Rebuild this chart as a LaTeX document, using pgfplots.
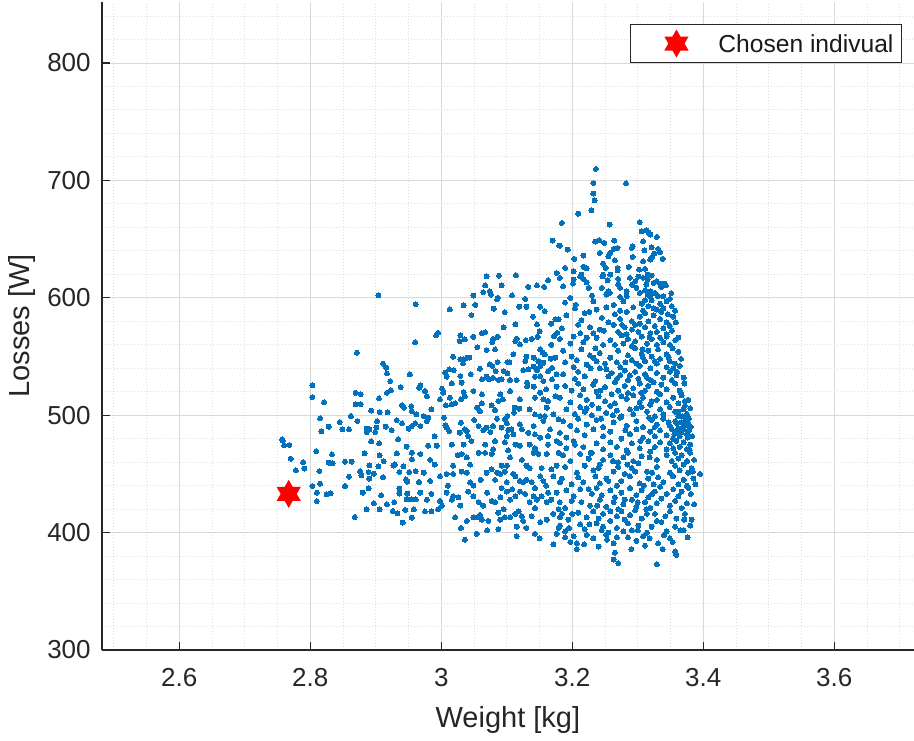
\documentclass[border=0pt]{standalone}
\usepackage{pgfplots}
\pgfplotsset{compat=1.18}
\usepackage{fontspec}
\setmainfont{Liberation Sans}
\definecolor{mblue}{rgb}{0,0.447,0.741}
\definecolor{axgray}{rgb}{0.15,0.15,0.15}
% six-pointed star (two triangles)
\pgfdeclareplotmark{hexagram}{%
  \pgfpathmoveto{\pgfqpointpolar{90}{\pgfplotmarksize}}%
  \pgfpathlineto{\pgfqpointpolar{210}{\pgfplotmarksize}}%
  \pgfpathlineto{\pgfqpointpolar{330}{\pgfplotmarksize}}%
  \pgfpathclose
  \pgfpathmoveto{\pgfqpointpolar{270}{\pgfplotmarksize}}%
  \pgfpathlineto{\pgfqpointpolar{30}{\pgfplotmarksize}}%
  \pgfpathlineto{\pgfqpointpolar{150}{\pgfplotmarksize}}%
  \pgfpathclose
  \pgfusepathqfill}
\pgfplotsset{pts/.style={only marks, color=mblue, mark=*, mark size=1.25pt, mark options={line width=0pt, draw=mblue, fill=mblue}, forget plot}}
\begin{document}
\begin{tikzpicture}
\useasboundingbox (0,0) rectangle (457pt,370pt);
\begin{axis}[
    at={(50.85pt,45pt)}, anchor=south west,
    scale only axis, width=406.15pt, height=324pt,
    xmin=2.4815, xmax=3.7217, ymin=300, ymax=852,
    axis x line*=bottom, axis y line*=left,
    axis line style={axgray, line width=0.8pt},
    xtick={2.6,2.8,3,3.2,3.4,3.6},
    xticklabels={2.6,2.8,3,3.2,3.4,3.6},
    ytick={300,400,500,600,700,800},
    minor xtick={2.5,2.55,2.65,2.7,2.75,2.85,2.9,2.95,3.05,3.1,3.15,3.25,3.3,3.35,3.45,3.5,3.55,3.65,3.7},
    minor ytick={320,340,360,380,420,440,460,480,520,540,560,580,620,640,660,680,720,740,760,780,820,840},
    grid=both,
    major grid style={black!15, line width=0.5pt},
    minor grid style={black!13, line width=0.5pt, densely dotted},
    tick align=inside, major tick length=4pt, minor tick length=0pt,
    tick style={axgray, line width=0.6pt},
    ticklabel style={font=\fontsize{13}{15}\selectfont, text=axgray},
    /pgf/number format/assume math mode=true,
    xticklabel style={yshift=-5.5pt},
    yticklabel style={xshift=-2pt},
    xlabel={Weight [kg]}, ylabel={Losses [W]},
    label style={font=\fontsize{14.5}{17}\selectfont, text=axgray},
    xlabel style={at={(axis description cs:0.5,-0.119)}, anchor=base},
    ylabel style={at={(axis description cs:-0.0985,0.5)}, anchor=center},
    legend style={at={(0.9852,0.966)}, anchor=north east, draw=axgray, line width=0.5pt,
        fill=white, inner xsep=2pt, inner ysep=2.5pt, nodes={inner sep=2pt, text depth=0pt},
        font=\fontsize{12.3}{14}\selectfont, text=black!90},
    legend cell align=left,
]
% left part, x < 2.97
\addplot[pts] coordinates {
(2.961,594.6)(2.960,562.2)(2.871,553.2)(2.911,544.0)(2.916,540.4)(2.917,535.6)(2.952,534.7)(2.922,529.0)
(2.803,525.4)(2.923,521.4)(2.917,519.1)(2.938,523.9)(2.966,523.4)(2.869,519.1)(2.877,517.9)(2.803,515.4)
(2.905,514.3)(2.821,511.1)(2.869,509.4)(2.877,509.4)(2.940,508.6)(2.943,506.4)(2.954,507.7)(2.893,504.0)
(2.906,502.6)(2.918,502.6)(2.955,503.5)(2.962,500.7)(2.815,497.3)(2.862,499.3)(2.872,495.0)(2.845,494.1)
(2.902,495.0)(2.932,495.8)(2.940,493.0)(2.960,493.0)(2.828,490.2)(2.817,486.2)(2.849,487.9)(2.859,487.9)
(2.886,488.5)(2.890,487.9)(2.901,489.4)(2.915,490.2)(2.924,487.3)(2.950,488.5)(2.955,490.7)(2.757,479.4)
(2.899,485.6)(2.886,485.6)(2.904,602.2)
(2.758,478.6)(2.760,474.3)(2.768,474.6)(2.770,462.9)(2.789,460.1)(2.778,453.0)(2.791,454.5)(2.809,469.5)
(2.833,466.6)(2.828,459.6)(2.834,459.0)(2.814,452.4)(2.853,460.4)(2.863,460.4)(2.815,441.7)(2.803,439.7)
(2.810,434.0)(2.825,432.6)(2.831,433.5)(2.810,426.9)(2.853,439.7)(2.859,447.7)(2.876,452.4)(2.878,448.8)
(2.883,467.5)(2.890,457.3)(2.889,451.6)(2.893,477.7)(2.905,476.0)(2.906,465.8)(2.904,456.5)(2.912,460.9)
(2.897,450.2)(2.890,446.0)(2.911,447.3)(2.889,437.7)(2.880,434.0)(2.934,479.4)(2.947,473.2)(2.955,468.1)
(2.955,462.4)(2.932,467.5)(2.929,458.1)(2.927,457.0)(2.942,456.5)(2.936,451.6)(2.951,451.6)(2.961,452.4)
(2.946,445.3)(2.948,443.4)(2.966,443.1)(2.936,437.5)(2.936,433.2)(2.948,433.2)(2.908,431.8)(2.928,426.0)
(2.947,428.3)(2.954,428.3)(2.961,428.3)(2.897,425.0)(2.886,419.8)(2.906,419.8)(2.917,424.1)(2.926,418.4)
(2.933,416.4)(2.945,419.3)(2.958,419.8)(2.955,412.8)(2.941,408.5)(2.868,413.3)
};
% middle part, 2.97 < x < 3.18
\addplot[pts] coordinates {
(3.170,648.8)(3.180,644.5)(3.069,618.4)(3.088,619.0)(3.114,619.3)(3.067,610.5)(3.092,610.5)(3.074,605.6)
(3.064,604.8)(3.076,602.8)(3.049,601.9)(3.086,600.0)(3.133,609.3)(3.146,610.5)(3.157,609.3)(3.163,615.0)
(3.176,621.2)(3.128,599.1)
(3.013,590.1)(3.034,593.5)(3.046,585.3)(3.080,590.7)(3.085,598.6)(3.097,587.8)(3.119,592.4)(3.130,592.4)
(3.151,592.4)(3.158,588.7)(3.174,581.6)(3.179,581.6)(3.146,577.3)(3.150,571.6)(3.113,577.3)(2.992,568.0)
(2.995,570.2)(3.029,568.0)(3.036,564.6)(3.028,563.1)(3.049,566.8)(3.062,569.7)(3.067,570.8)(3.079,565.1)
(3.086,566.8)(3.078,562.3)(3.115,565.1)(3.113,563.1)(3.129,564.0)(3.138,565.1)(3.147,566.8)(3.172,567.4)
(3.177,570.2)(3.082,556.0)(3.069,555.5)(3.120,560.3)(3.151,556.0)(3.155,553.2)(3.158,551.8)(3.029,547.5)
(3.034,547.5)(3.039,549.0)(3.043,549.0)(3.018,549.8)(3.033,544.1)(3.130,549.8)(3.128,546.1)(3.141,549.0)
(3.148,546.1)(3.156,544.7)(3.167,548.1)(3.174,549.0)(3.086,545.3)(3.101,545.3)(3.104,545.0)(3.074,543.3)
(3.078,541.9)(3.059,539.6)(3.083,537.6)(3.006,536.2)(3.012,539.0)(3.019,538.5)(3.008,532.8)(3.016,527.1)
(3.029,533.4)(3.031,527.7)(3.062,530.5)(3.069,532.8)(3.073,530.5)(3.079,531.9)(3.087,530.0)(3.092,530.5)
(3.105,530.0)(3.095,537.6)(3.101,535.6)(3.125,538.5)(3.133,539.0)(3.141,541.3)(3.146,538.5)(3.151,541.9)
(3.163,537.6)(3.169,540.4)(3.176,534.8)(3.169,530.5)(3.151,533.4)(3.131,527.7)(3.143,532.8)(3.156,529.1)
(2.968,525.4)(2.975,520.6)(2.978,516.3)(3.001,522.6)(3.003,519.2)(3.013,514.9)(2.998,513.5)(3.016,509.2)
(3.007,508.4)(3.021,510.1)(3.034,519.7)(3.036,516.3)(3.030,513.5)(3.049,520.6)(3.062,517.7)(3.062,510.1)
(3.055,506.4)(3.059,503.6)(3.077,508.4)(3.082,504.4)(3.090,517.7)(3.094,513.5)(3.087,512.1)(3.105,520.6)
(3.112,506.4)(3.119,505.5)(3.111,502.1)(3.101,499.3)(3.097,496.5)(3.100,493.1)(3.092,489.4)(3.107,488.0)
(3.102,487.4)(3.120,513.5)(3.131,524.8)(3.141,524.3)(3.143,514.9)(3.151,519.2)(3.156,513.5)(3.163,512.1)
(3.161,506.4)(3.174,516.3)(3.176,524.3)(3.135,505.0)(3.143,500.7)(3.151,499.3)(3.158,499.3)(3.156,495.1)
(3.171,500.7)(3.179,496.5)(3.166,488.0)(3.141,490.8)(3.120,492.2)(3.123,488.0)(2.973,499.3)(2.980,497.9)
(2.978,495.1)(2.968,490.8)(3.006,491.4)(3.008,489.4)(3.012,486.5)(3.030,493.6)(3.036,488.0)(3.039,486.6)
(3.057,490.8)(3.064,487.4)(3.069,489.4)(3.075,485.7)(3.079,490.8)(3.028,485.1)(3.041,482.3)(3.100,482.3)
(3.110,483.7)(3.143,483.7)(3.151,480.9)(3.163,482.3)
(2.980,474)(2.993,474)(3.016,475)(3.034,475)(3.046,478)(3.067,475)(3.082,478)(3.097,477)(3.113,475)
(3.120,474)(3.135,475)(3.143,472)(3.163,475)(3.176,478)(2.968,467)(2.983,462)(2.990,458)(3.018,457)
(3.031,467)(3.039,464)(3.044,458)(3.057,468)(3.067,468)(3.077,467)(3.079,471)(3.085,451)(3.092,457)
(3.100,457)(3.102,470)(3.105,464)(3.110,450)(3.123,462)(3.130,457)(3.141,468)(3.143,471)(3.148,467)
(3.153,455)(3.161,467)(3.168,454)(3.176,457)(3.179,468)(2.973,451)(2.983,444)(2.998,448)(3.008,450)
(3.018,450)(3.031,452)(3.039,451)(3.044,443)(3.049,440)(3.069,451)(3.077,454)(3.082,445)(3.090,450)
(3.097,452)(3.100,443)(3.108,437)(3.113,448)(3.120,444)(3.125,443)(3.130,445)(3.138,443)(3.143,438)
(3.151,448)(3.156,444)(3.163,434)(3.171,448)(3.181,443)(2.968,434)(2.978,428)(2.985,433)(2.998,427)
(3.008,434)(3.016,428)(3.018,431)(3.026,430)(3.029,423)(3.041,435)(3.049,431)(3.057,426)(3.064,423)
(3.077,427)(3.082,426)(3.090,430)(3.100,435)(3.105,428)(3.113,431)(3.120,435)(3.128,433)(3.135,426)
(3.141,431)(3.146,428)(3.153,431)(3.161,426)(3.168,428)(3.176,434)(2.975,418)(2.985,418)(2.995,420)
(3.001,423)(3.021,413)(3.039,410)(3.049,413)(3.057,413)(3.062,411)(3.059,415)(3.072,410)(3.087,417)
(3.090,411)(3.097,413)(3.105,413)(3.113,416)(3.118,418)(3.123,414)(3.125,410)(3.130,404)(3.138,414)
(3.143,421)(3.151,409)(3.161,411)(3.171,416)(3.179,420)(3.181,413)(3.036,394)(3.054,399)(3.087,403)
(3.115,397)(3.143,399)(3.171,390)(3.179,404)(3.176,399)
(3.052,594)(3.108,602)(3.140,584)(3.168,578)(3.095,575)(3.055,558)(3.110,552)(3.168,560)(3.045,535)
(3.115,530)(3.160,522)(3.050,496)(3.085,497)(3.133,485)(3.025,466)(3.060,445)(3.135,455)(3.092,438)
(3.160,440)(3.010,440)(3.070,434)(3.095,420)(3.030,404)(3.070,402)(3.115,405)(3.150,395)(3.004,498)
(2.985,505)(2.990,482)
};
% right part, x > 3.18
\addplot[pts] coordinates {
(3.236,709.8)(3.232,697.8)(3.282,697.6)(3.232,688.8)(3.234,683.1)(3.229,674.6)(3.209,671.7)(3.184,663.8)
(3.257,662.4)(3.303,664.4)(3.306,656.7)(3.313,657.6)(3.316,655.9)(3.319,653.9)(3.329,651.9)(3.235,647.9)
(3.241,649.0)(3.249,646.8)(3.264,648.8)(3.308,648.2)(3.291,642.5)(3.292,644.0)(3.181,644.5)(3.193,641.1)
(3.263,641.7)(3.269,642.5)(3.310,640.5)(3.321,643.1)(3.331,641.7)(3.325,637.7)(3.334,638.8)(3.258,638.3)
(3.255,635.4)(3.242,638.3)(3.217,636.0)(3.203,633.2)(3.292,634.9)(3.308,631.2)(3.319,632.6)(3.322,634.9)
(3.338,633.2)(3.247,629.2)(3.251,625.5)(3.265,632.0)(3.269,625.5)(3.189,625.5)(3.217,626.4)(3.222,625.2)
(3.286,626.4)(3.302,624.1)(3.311,624.7)(3.315,619.8)(3.247,619.8)(3.258,619.8)(3.269,623.5)(3.202,622.7)
(3.212,618.4)(3.214,619.8)(3.181,617.0)(3.186,609.9)(3.202,615.6)(3.201,612.2)(3.217,616.1)(3.222,613.3)
(3.225,608.5)(3.246,618.4)(3.254,615.0)(3.270,616.1)(3.270,611.3)(3.288,617.0)(3.291,611.3)(3.296,614.2)
(3.308,617.0)(3.313,611.3)(3.315,615.6)(3.321,619.0)(3.324,612.7)(3.329,614.2)(3.334,612.2)(3.336,609.3)
(3.343,610.5)(3.245,608.5)(3.255,605.6)(3.257,604.2)(3.273,608.5)(3.283,605.6)(3.298,608.5)(3.303,604.2)
(3.311,606.5)(3.315,602.8)(3.319,605.6)(3.319,601.4)(3.326,604.2)(3.331,601.4)(3.339,601.4)(3.349,599.1)
(3.197,600.0)(3.230,601.9)(3.252,602.8)(3.273,600.8)(3.283,601.4)
(3.189,596)(3.204,591)(3.232,597)(3.237,590)(3.263,594)(3.273,589)(3.278,597)(3.293,592)(3.306,595)
(3.308,589)(3.316,593)(3.321,598)(3.329,590)(3.334,595)(3.339,591)(3.344,597)(3.352,593)(3.357,589)
(3.191,585)(3.214,581)(3.219,587)(3.245,583)(3.255,579)(3.265,586)(3.273,582)(3.283,588)(3.291,580)
(3.303,584)(3.311,587)(3.316,580)(3.324,585)(3.334,582)(3.336,588)(3.344,579)(3.354,584)
(3.184,574)(3.209,577)(3.212,570)(3.227,575)(3.232,570)(3.242,573)(3.263,577)(3.270,571)(3.280,575)
(3.283,569)(3.291,573)(3.296,577)(3.301,571)(3.311,575)(3.319,570)(3.326,576)(3.329,571)(3.339,574)
(3.344,569)(3.349,576)(3.352,572)
(3.181,565)(3.197,561)(3.202,567)(3.217,562)(3.237,566)(3.247,560)(3.258,564)(3.275,568)(3.278,561)
(3.285,565)(3.291,559)(3.296,563)(3.306,567)(3.314,561)(3.321,565)(3.329,560)(3.334,566)(3.339,562)
(3.344,567)(3.349,560)(3.357,564)
(3.186,555)(3.199,550)(3.214,556)(3.227,551)(3.235,557)(3.242,553)(3.258,549)(3.270,555)(3.285,551)
(3.296,557)(3.306,552)(3.308,549)(3.316,555)(3.321,550)(3.331,556)(3.344,552)(3.347,549)(3.362,554)
(3.189,545)(3.202,541)(3.207,547)(3.222,543)(3.237,546)(3.242,540)(3.250,544)(3.252,539)(3.268,545)
(3.273,541)(3.291,547)(3.303,542)(3.311,546)(3.319,540)(3.329,544)(3.334,548)(3.344,541)(3.349,546)
(3.354,540)(3.357,544)(3.364,542)
(3.186,535)(3.204,531)(3.209,537)(3.219,533)(3.235,529)(3.260,536)(3.268,531)(3.273,534)(3.280,538)
(3.285,530)(3.288,534)(3.296,537)(3.301,531)(3.311,535)(3.319,530)(3.329,536)(3.339,532)(3.349,537)
(3.352,530)(3.359,534)(3.370,532)
(3.189,525)(3.199,521)(3.209,527)(3.217,522)(3.232,526)(3.237,520)(3.250,524)(3.265,528)(3.270,521)
(3.280,525)(3.285,519)(3.293,523)(3.303,527)(3.311,521)(3.316,525)(3.329,520)(3.336,526)(3.344,522)
(3.357,527)(3.364,521)
(3.181,515)(3.197,511)(3.212,517)(3.222,513)(3.230,509)(3.240,516)(3.250,512)(3.260,518)(3.265,510)
(3.283,514)(3.293,517)(3.303,511)(3.308,515)(3.319,509)(3.329,513)(3.334,518)(3.344,511)(3.354,515)
(3.362,510)(3.367,517)(3.377,513)
(3.191,505)(3.204,501)(3.212,507)(3.219,503)(3.230,500)(3.240,506)(3.252,502)(3.258,508)(3.268,504)
(3.275,499)(3.288,505)(3.293,501)(3.306,507)(3.314,503)(3.326,499)(3.334,505)(3.339,501)(3.349,507)
(3.357,503)(3.362,499)(3.370,505)(3.375,501)
(3.186,495)(3.197,491)(3.209,497)(3.222,492)(3.237,496)(3.247,490)(3.263,494)(3.273,498)(3.283,491)
(3.298,495)(3.308,490)(3.321,496)(3.329,492)(3.339,497)(3.349,491)(3.357,495)(3.362,489)(3.367,494)
(3.372,498)(3.377,492)
(3.181,485)(3.191,481)(3.207,487)(3.219,483)(3.232,488)(3.247,482)(3.258,486)(3.275,480)(3.288,484)
(3.298,488)(3.308,481)(3.319,486)(3.326,482)(3.334,487)(3.344,483)(3.354,480)(3.359,486)(3.364,482)
(3.370,488)(3.375,484)
(3.352,488)(3.360,493)(3.366,485)(3.371,491)(3.374,496)(3.378,487)(3.368,499)(3.362,503)(3.372,508)
(3.356,484)(3.376,481)(3.347,494)
(3.181,476)(3.191,472)(3.202,478)(3.217,473)(3.237,476)(3.247,471)(3.258,477)(3.268,473)(3.283,470)
(3.291,476)(3.303,472)(3.316,478)(3.326,473)(3.334,477)(3.344,471)(3.349,476)(3.354,472)(3.359,478)
(3.364,473)(3.370,477)(3.375,471)(3.380,475)
(3.186,466)(3.197,461)(3.212,467)(3.225,463)(3.230,468)(3.247,462)(3.258,466)(3.270,460)(3.278,464)
(3.285,468)(3.293,461)(3.306,465)(3.319,469)(3.329,462)(3.344,466)(3.352,461)(3.357,468)(3.362,463)
(3.367,466)(3.375,461)(3.380,468)
(3.189,456)(3.207,451)(3.219,457)(3.232,453)(3.242,458)(3.263,452)(3.270,456)(3.280,450)(3.291,455)
(3.301,459)(3.314,452)(3.329,456)(3.349,451)(3.357,457)(3.364,453)(3.370,458)(3.377,451)(3.382,455)
(3.395,450)
(3.184,446)(3.199,441)(3.209,447)(3.217,443)(3.235,448)(3.242,442)(3.252,446)(3.268,440)(3.275,444)
(3.288,448)(3.303,442)(3.316,446)(3.324,441)(3.331,447)(3.339,443)(3.354,448)(3.362,441)(3.370,445)
(3.375,440)(3.385,446)
(3.191,436)(3.202,431)(3.212,437)(3.230,433)(3.237,438)(3.245,432)(3.258,436)(3.265,430)(3.275,434)
(3.288,438)(3.298,432)(3.306,436)(3.316,430)(3.326,435)(3.334,439)(3.344,433)(3.354,437)(3.362,431)
(3.367,435)(3.377,438)
(3.181,426)(3.189,421)(3.199,427)(3.227,423)(3.242,428)(3.252,422)(3.263,426)(3.270,420)(3.278,424)
(3.291,428)(3.298,422)(3.311,426)(3.319,421)(3.329,425)(3.336,429)(3.349,423)(3.357,427)(3.367,421)
(3.375,425)
(3.184,416)(3.194,411)(3.209,417)(3.222,413)(3.232,418)(3.240,412)(3.247,416)(3.258,410)(3.268,414)
(3.275,418)(3.280,411)(3.288,415)(3.296,419)(3.306,412)(3.314,416)(3.329,410)(3.342,414)(3.349,418)
(3.359,412)(3.372,416)(3.382,411)
(3.181,406)(3.189,401)(3.212,407)(3.219,403)(3.237,408)(3.245,402)(3.247,405)(3.255,400)(3.268,404)
(3.285,408)(3.291,402)(3.301,406)(3.314,400)(3.321,405)(3.336,409)(3.344,401)(3.357,405)(3.370,402)
(3.380,406)
(3.189,396)(3.197,392)(3.202,397)(3.207,391)(3.232,395)(3.252,398)(3.263,391)(3.268,396)(3.298,393)
(3.308,397)(3.331,391)(3.349,395)(3.207,386)(3.265,383)(3.357,384)(3.359,381)(3.263,377)(3.270,374)
(3.329,373)
(3.341,612)(3.351,604)(3.346,586)(3.358,579)(3.362,566)(3.353,557)(3.366,548)(3.360,537)(3.371,527)
(3.366,519)(3.372,512)(3.380,506)(3.378,497)(3.381,490)(3.383,482)(3.379,470)(3.386,462)(3.384,452)
(3.388,441)(3.381,433)(3.386,424)(3.371,411)(3.365,402)(3.376,396)(3.353,392)(3.340,398)
(3.301,618)(3.311,598)(3.324,591)(3.303,578)(3.318,566)(3.307,556)(3.326,546)(3.298,544)(3.314,532)
(3.324,528)(3.305,519)(3.321,512)(3.298,506)(3.317,498)(3.326,490)(3.304,478)(3.318,464)(3.296,452)
(3.322,451)(3.309,440)(3.322,433)(3.300,426)(3.313,420)(3.326,416)(3.300,402)(3.318,395)(3.338,386)
(3.311,389)
(3.205,594)(3.226,588)(3.252,592)(3.276,577)(3.248,572)(3.222,566)(3.265,560)(3.232,549)(3.281,545)
(3.255,533)(3.228,540)(3.243,521)(3.275,516)(3.222,506)(3.262,500)(3.244,497)(3.281,487)(3.204,475)
(3.228,468)(3.262,461)(3.240,455)(3.284,458)(3.255,444)(3.225,437)(3.280,428)(3.238,423)(3.258,418)
(3.214,426)(3.200,416)(3.226,407)(3.278,401)(3.253,394)(3.222,398)(3.285,396)(3.195,404)(3.240,388)
(3.290,386)(3.218,390)
};
% chosen individual
\addplot[only marks, mark=hexagram, mark size=7pt, color=red,
    legend image code/.code={\path[draw=none] (0pt,0pt) -- (40pt,0pt); \draw[draw=none] plot[mark=hexagram] coordinates {(21pt,0pt)};}]
    coordinates {(2.767,433)};
\addlegendentry{Chosen indivual}
\end{axis}
\end{tikzpicture}
\end{document}
